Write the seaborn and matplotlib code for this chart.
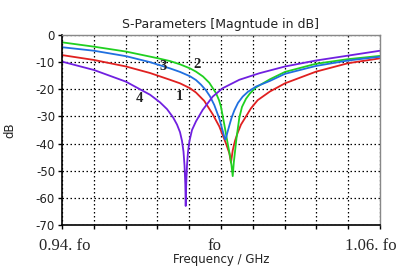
import matplotlib
matplotlib.use("Agg")
import matplotlib.pyplot as plt
import matplotlib.transforms as mtransforms
import seaborn as sns
import numpy as np

# frequency in units of fo, magnitude in dB
f1 = [0.94000, 0.95208, 0.96415, 0.97321, 0.98075, 0.98453, 0.98830, 0.99057, 0.99370, 0.99687,
      0.99936, 1.00189, 1.00313, 1.00377, 1.00442, 1.00528, 1.00630, 1.00755, 1.00943, 1.01132,
      1.01385, 1.01849, 1.02415, 1.03585, 1.04792, 1.06000]
s1 = [-7.4, -9.2, -11.6, -14, -16.5, -17.8, -19.6, -21.2, -24.3, -29.2,
      -33.7, -40, -43.5, -47, -42.5, -39, -36, -33, -30, -27,
      -24, -20.8, -17.8, -13.5, -10.4, -8.6]

f2 = [0.94000, 0.95208, 0.96415, 0.97585, 0.98075, 0.98453, 0.98830, 0.99057, 0.99321, 0.99558,
      0.99811, 0.99925, 1.00000, 1.00125, 1.00253, 1.00340, 1.00396, 1.00442, 1.00483, 1.00528,
      1.00585, 1.00691, 1.00792, 1.00943, 1.01094, 1.01321, 1.01849, 1.02415, 1.03585, 1.04792,
      1.06000]
s2 = [-2.7, -4.3, -6.1, -8.5, -9.6, -10.8, -12.3, -13.5, -15.3, -17.6,
      -21.4, -24, -26.5, -33, -40, -44.5, -48, -52, -47, -43,
      -38, -30.5, -26.5, -23.5, -21.5, -19.3, -16.3, -13.6, -10.6, -8.9,
      -7.7]

f3 = [0.94000, 0.95208, 0.96415, 0.97321, 0.98075, 0.98453, 0.98830, 0.99057, 0.99245, 0.99434,
      0.99585, 0.99747, 0.99936, 1.00064, 1.00132, 1.00162, 1.00200, 1.00245, 1.00313, 1.00396,
      1.00502, 1.00642, 1.00819, 1.01019, 1.01321, 1.01849, 1.02415, 1.03585, 1.04792, 1.06000]
s3 = [-4.5, -5.8, -7.8, -10, -12.3, -13.6, -15.2, -16.6, -18.3, -20.4,
      -22.6, -25.8, -30.8, -35.3, -37.8, -38.5, -37.5, -35.8, -33.4, -30.6,
      -27.8, -25, -22.7, -20.9, -19, -16.9, -14.3, -11.4, -9.4, -8.0]

f4 = [0.94000, 0.95208, 0.96415, 0.96943, 0.97321, 0.97698, 0.97962, 0.98189, 0.98340, 0.98453,
      0.98528, 0.98585, 0.98623, 0.98653, 0.98668, 0.98687, 0.98717, 0.98755, 0.98811, 0.98906,
      0.99057, 0.99309, 0.99687, 1.00064, 1.00691, 1.01445, 1.02415, 1.03585, 1.04792, 1.06000]
s4 = [-9.8, -12.9, -17.2, -20, -22, -24.8, -27.3, -30.3, -33, -35.8,
      -39, -43, -48, -55, -63, -55, -48, -43, -39, -35,
      -31.8, -27.6, -22.7, -19.6, -16.5, -14.1, -11.6, -9.4, -7.6, -5.8]

curve_names = ["1", "2", "3", "4"]
curve_colors = ["#e02020", "#20d020", "#2070e0", "#7020e0"]
label_f = [0.9845, 0.9908, 0.9781, 0.9694]
label_db = [-22.7, -11.0, -11.6, -23.3]

xticks_major = [0.94, 1.0, 1.06]
xtick_labels = ["0.94. fo", "fo", "1.06. fo"]
yticks = [0, -10, -20, -30, -40, -50, -60, -70]

sns.set_style("white")

fig = plt.figure(figsize=(3.99, 2.69), dpi=100)
ax = fig.add_axes([62 / 399, 1 - 225 / 269, 318 / 399, 190 / 269])

for f, s, c in zip([f1, f2, f3, f4], [s1, s2, s3, s4], curve_colors):
    sns.lineplot(x=f, y=s, color=c, lw=1.3, ax=ax)

for name, lf, ld in zip(curve_names, label_f, label_db):
    ax.text(lf, ld, name, ha="center", va="center", fontsize=10.5,
            fontweight="bold", family="Liberation Serif", color="#222222")

ax.set_xlim(0.94, 1.06)
ax.set_ylim(-70, 0)
ax.set_xticks(xticks_major)
ax.set_xticklabels(xtick_labels, family="Liberation Serif", fontsize=12)
ax.set_xticks(np.linspace(0.94, 1.06, 11), minor=True)
ax.set_yticks(yticks)
ax.set_yticklabels([str(v) for v in yticks], fontsize=8.5, color="#222222")

ax.grid(True, which="both", color="black", ls=(0, (1.2, 2)), lw=0.9)
ax.tick_params(axis="both", which="both", direction="out", length=3, width=1,
               color="black", left=True, bottom=True, pad=2)
ax.tick_params(axis="x", which="major", pad=6)

for side in ["left", "bottom"]:
    ax.spines[side].set_color("black")
    ax.spines[side].set_linewidth(1.2)
for side in ["top", "right"]:
    ax.spines[side].set_color("#888888")
    ax.spines[side].set_linewidth(1.0)

# nudge the x labels like in the source image
shifts = [3, -7, -9]
for lab, dx in zip(ax.get_xticklabels(), shifts):
    lab.set_transform(lab.get_transform() +
                      mtransforms.ScaledTranslation(dx / 100, 0, fig.dpi_scale_trans))

ax.set_title("S-Parameters [Magntude in dB]", fontsize=9, pad=5, color="#222222")
ax.set_xlabel("Frequency / GHz", fontsize=8.5, labelpad=0, color="#222222")
ax.set_ylabel("dB", fontsize=8.5, labelpad=14, color="#222222")

fig.savefig("out.png", dpi=100)
